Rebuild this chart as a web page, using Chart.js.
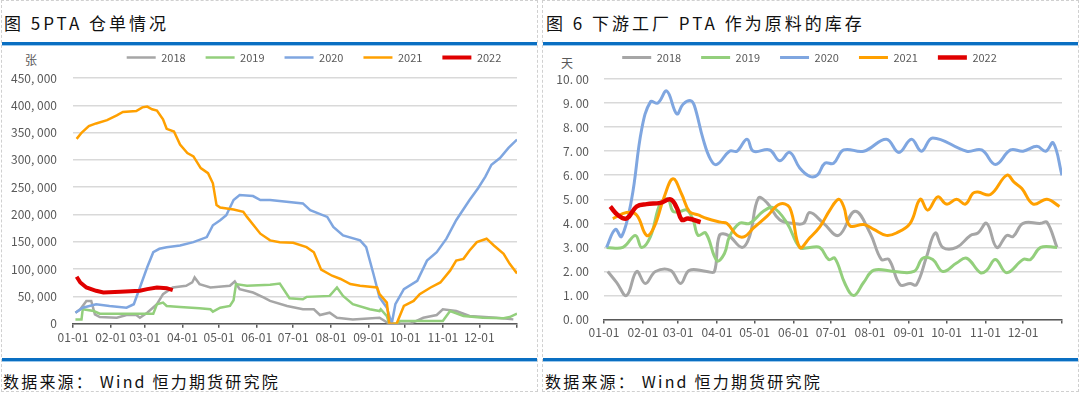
<!DOCTYPE html>
<html>
<head>
<meta charset="utf-8">
<script src="https://cdn.jsdelivr.net/npm/chart.js@4"></script>
<style>
  body { margin:0; width:1080px; height:394px; background:#fff; position:relative; overflow:hidden;
         font-family:"Noto Sans CJK SC","Noto Sans",sans-serif; }
  .panel { position:absolute; top:0; height:392px; border:1px dashed #d0d0d0; box-sizing:border-box; }
  .title { position:absolute; left:4px; top:10px; font-size:17px; letter-spacing:3px; color:#111; white-space:nowrap; }
  .rule { position:absolute; height:3px; background:#0a6fc2; border-bottom:1px solid #9cc8ec; }
  .src { position:absolute; top:369px; font-size:16px; letter-spacing:2.2px; color:#111; white-space:nowrap; }
  .unit { position:absolute; font-size:12px; color:#595959; }
  canvas { position:absolute; }
</style>
</head>
<body>
<div class="panel" style="left:1px;width:537px"></div>
<div class="panel" style="left:542px;width:537px"></div>

<div class="title">图 5PTA 仓单情况</div>
<div class="title" style="left:546px">图 6 下游工厂 PTA 作为原料的库存</div>
<div class="rule" style="left:2px;width:535px;top:42px"></div>
<div class="rule" style="left:543px;width:535px;top:42px"></div>
<div class="rule" style="left:2px;width:535px;top:358px"></div>
<div class="rule" style="left:543px;width:535px;top:358px"></div>
<div class="src" style="left:3px">数据来源： Wind 恒力期货研究院</div>
<div class="src" style="left:545px">数据来源： Wind 恒力期货研究院</div>
<span class="unit" style="left:25px;top:51px">张</span>
<span class="unit" style="left:561px;top:54px">天</span>

<canvas id="warrant" width="538" height="310" style="left:0;top:37px"></canvas>
<canvas id="stock" width="537" height="304" style="left:543px;top:38px"></canvas>

<script>
// day-of-year for each month start, used for the x ticks
const monthStarts = [0, 31, 59, 90, 120, 151, 181, 212, 243, 273, 304, 334, 365];
const monthLabels = ["01-01","02-01","03-01","04-01","05-01","06-01","07-01","08-01","09-01","10-01","11-01","12-01",""];
const years = ["2018","2019","2020","2021","2022"];
const colors = ["#a6a6a6","#93cf7c","#7fa6e0","#ffa000","#e00000"];

// 图5 PTA仓单 (张)  [day of year, value]
const w2018 = [[2,20300],[6,26600],[11,41900],[15,41900],[18,17400],[22,12400],[36,11100],[44,16100],[52,16100],[55,11100],[61,20300],[69,35800],[74,54300],[82,66500],[93,69600],[98,75700],[100,84900],[104,72700],[113,66500],[129,69600],[133,77500],[137,63500],[148,57200],[157,48000],[162,41900],[176,32700],[189,26600],[198,26600],[203,16100],[211,20300],[217,11100],[230,8100],[252,11100],[260,0],[277,0],[288,11100],[299,16100],[304,26600],[315,23400],[326,14200],[348,11100],[362,8100]];
const w2019 = [[2,8100],[7,8100],[8,26600],[17,23400],[22,18500],[66,18500],[69,35800],[74,38800],[77,32700],[88,30800],[104,28400],[113,26600],[115,22200],[121,29500],[129,32700],[132,43200],[134,72700],[143,69600],[162,71400],[170,73800],[178,46900],[189,45000],[192,49300],[211,51100],[217,66500],[222,51100],[230,35800],[244,26600],[252,23400],[253,26600],[258,14200],[260,0],[266,0],[269,5000],[304,5000],[307,14200],[310,23400],[321,14200],[337,11100],[354,10000],[359,12400],[365,18500]];
const w2020 = [[2,20300],[8,29500],[19,35800],[30,32700],[44,29500],[50,35800],[55,66500],[61,103400],[66,131100],[71,137300],[77,140300],[88,143400],[99,149500],[110,158800],[115,180400],[121,189600],[126,198800],[132,226500],[137,235700],[148,233900],[154,226500],[162,226500],[189,220400],[195,208100],[209,195700],[214,177200],[222,161900],[236,152700],[241,140300],[247,91200],[252,48000],[258,29500],[262,0],[265,35800],[272,63500],[283,78800],[291,115700],[299,131100],[307,155800],[315,189600],[326,226500],[333,248100],[339,269500],[344,291100],[351,303500],[358,321900],[365,337300]];
const w2021 = [[3,338500],[7,349600],[13,361800],[19,366800],[28,372900],[36,381500],[41,387700],[52,389500],[57,396300],[61,397600],[65,392700],[69,390300],[74,374200],[77,357000],[83,352000],[88,328000],[94,312700],[99,306500],[105,285000],[111,275800],[115,257300],[118,217300],[121,213000],[132,209300],[140,205000],[143,195700],[154,165000],[162,152700],[170,149500],[181,148400],[192,140300],[198,131000],[204,99100],[213,88000],[220,82000],[228,72700],[236,69600],[250,66500],[252,54300],[258,38800],[260,0],[266,0],[272,32700],[280,41900],[285,54300],[294,66500],[302,75700],[310,97300],[315,115700],[321,118900],[326,134200],[332,149500],[340,155800],[346,143400],[354,128100],[359,109700],[365,92300]];
const w2022 = [[3,86200],[6,75700],[11,66500],[19,60400],[25,57200],[39,58500],[55,60400],[61,63500],[69,66500],[77,65300],[82,61700]];

// 图6 下游工厂PTA原料库存 (天)
const s2018 = [[3,2.0],[10,1.55],[18,1.0],[26,2.0],[33,1.5],[41,2.0],[53,2.05],[61,1.5],[68,2.05],[82,2.0],[88,2.0],[92,3.5],[99,3.5],[110,3.0],[116,3.45],[123,5.05],[130,4.85],[140,4.15],[151,4.0],[159,4.0],[164,4.45],[175,4.0],[187,3.5],[200,4.5],[212,3.6],[221,2.5],[227,2.5],[236,1.45],[244,1.5],[249,1.45],[257,2.6],[264,3.6],[270,3.0],[281,3.0],[292,3.5],[298,3.6],[305,4.0],[313,3.0],[321,3.5],[326,3.45],[334,4.0],[348,4.0],[353,4.05],[361,3.0]];
const s2019 = [[2,3.0],[15,3.0],[25,3.5],[30,3.0],[37,3.45],[45,4.85],[51,5.0],[55,4.5],[61,4.5],[66,4.55],[71,4.15],[75,3.5],[81,3.6],[90,2.45],[96,2.75],[100,3.45],[108,4.0],[116,4.0],[127,4.5],[135,4.65],[146,4.0],[156,3.0],[164,3.0],[172,3.0],[179,2.5],[184,2.55],[192,1.5],[199,1.0],[207,1.55],[215,2.05],[231,2.0],[247,2.0],[254,2.55],[262,2.5],[270,2.0],[281,2.35],[289,2.55],[300,1.95],[305,2.05],[312,2.5],[321,1.95],[334,2.5],[340,2.5],[348,3.0],[361,3.0]];
const s2020 = [[2,3.0],[9,3.75],[14,3.45],[22,5.0],[30,7.9],[37,9.05],[43,9.0],[50,9.5],[58,8.55],[63,8.95],[69,9.1],[72,8.9],[79,7.5],[85,6.65],[90,6.45],[100,7.0],[106,7.0],[114,7.5],[119,7.0],[132,7.05],[140,6.6],[148,6.95],[156,6.3],[164,5.95],[170,6.0],[176,6.5],[183,6.5],[191,7.05],[207,7.0],[225,7.5],[235,6.95],[245,7.5],[253,7.0],[262,7.55],[289,7.0],[301,7.05],[312,6.45],[324,7.05],[334,7.0],[345,7.2],[352,7.0],[358,7.35],[365,6.0]];
const s2021 = [[7,4.2],[18,4.45],[26,4.35],[34,3.5],[40,3.85],[48,5.1],[55,5.85],[62,5.2],[68,4.5],[75,4.35],[82,4.2],[93,4.05],[98,4.0],[106,3.5],[112,3.45],[119,3.8],[130,4.3],[140,4.8],[148,4.65],[156,3.0],[164,3.4],[172,3.85],[180,4.55],[187,5.0],[191,4.7],[196,3.9],[207,3.95],[215,3.75],[225,3.5],[233,3.6],[244,4.0],[252,5.0],[258,4.55],[266,5.1],[273,4.8],[281,5.0],[288,4.8],[294,5.25],[298,5.3],[308,5.2],[321,6.0],[327,5.7],[333,5.45],[342,4.8],[353,5.0],[363,4.7]];
const s2022 = [[5,4.7],[11,4.35],[18,4.2],[26,4.7],[34,4.8],[45,4.85],[53,5.0],[58,4.65],[62,4.15],[67,4.2],[77,4.05]];

// nudges the legend sideways / upwards after Chart.js has placed it
const legendShift = {
  id: 'legendShift',
  afterLayout(chart, args, opts) {
    const lg = chart.legend;
    lg.left += opts.dx; lg.right += opts.dx;
    lg.top -= opts.dy; lg.bottom -= opts.dy;
  }
};

Chart.defaults.font.family = "'Noto Sans CJK SC','Noto Sans',sans-serif";
Chart.defaults.color = "#595959";
Chart.defaults.animation = false;

function makeChart(id, series, widths, tension, yOpts, yWidth, padRight, dx, dy) {
  return new Chart(document.getElementById(id), {
    type: "line",
    data: {
      datasets: series.map((d, i) => ({
        label: years[i],
        data: d,
        borderColor: colors[i],
        backgroundColor: colors[i],
        borderWidth: widths[i],
        pointRadius: 0,
        tension: tension,
        order: 4 - i
      }))
    },
    options: {
      responsive: false,
      layout: { padding: { left: 0, right: padRight, top: 0, bottom: 0 } },
      plugins: {
        legend: {
          labels: {
            usePointStyle: true, pointStyle: "line", pointStyleWidth: 29,
            boxHeight: 11, padding: 20, font: { size: 11 }, color: "#595959",
            sort: (a, b) => a.datasetIndex - b.datasetIndex
          }
        },
        tooltip: { enabled: false },
        legendShift: { dx: dx, dy: dy }
      },
      scales: {
        x: {
          type: "linear", min: 0, max: 365,
          afterBuildTicks: s => { s.ticks = monthStarts.map(v => ({ value: v })); },
          ticks: {
            autoSkip: false, maxRotation: 0, padding: 2, font: { size: 12 },
            callback: v => monthLabels[monthStarts.indexOf(v)]
          },
          grid: { drawOnChartArea: false, tickLength: 4, color: "#595959", tickColor: "#595959", lineWidth: 1.5 },
          border: { color: "#595959", width: 1.5 }
        },
        y: Object.assign({
          afterFit: s => { s.width = yWidth; },
          grid: { color: "#d9d9d9", lineWidth: 1.5, drawTicks: false },
          border: { display: false }
        }, yOpts)
      }
    },
    plugins: [legendShift]
  });
}

makeChart("warrant", [w2018, w2019, w2020, w2021, w2022], [2.5, 2.5, 2.5, 2.5, 4], 0,
  { min: 0, max: 450000,
    ticks: { stepSize: 50000, padding: 16, font: { size: 12 },
             callback: v => v.toLocaleString("en-US").replace(",", ", ") } },
  73, 21, 55.5, 5);

makeChart("stock", [s2018, s2019, s2020, s2021, s2022], [3, 3, 3, 3, 4.5], 0.4,
  { min: 0, max: 10,
    ticks: { stepSize: 1, padding: 15, font: { size: 12 },
             callback: v => v.toFixed(2).replace(".", ". ") } },
  61, 18, 7, 6);
</script>
</body>
</html>
